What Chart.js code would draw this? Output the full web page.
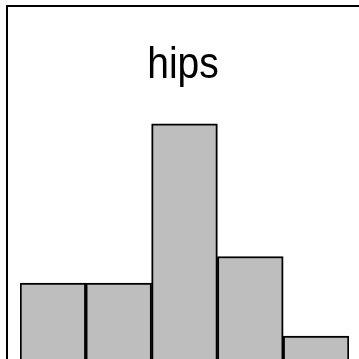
<!DOCTYPE html>
<html lang="en">

<head>
    <meta charset="UTF-8">
    <title>hips</title>
    <script src="https://cdn.jsdelivr.net/npm/chart.js@4"></script>
    <style>
        html, body { margin: 0; padding: 0; background: #fff; }
        #wrap { width: 359px; height: 359px; overflow: hidden; position: relative; }
        #canvas { position: absolute; left: 0; top: 0; }
    </style>
</head>

<body>
    <div id="wrap">
        <div style="width:380px;height:380px;position:absolute;left:0;top:0;">
            <canvas id="canvas" width="380" height="380"></canvas>
        </div>
    </div>
    <script>
        // histogram bins and counts
        const bins = ['1', '2', '3', '4', '5'];
        const counts = [3, 3, 9, 4, 1];
        const titleText = 'hips';

        // box around the plot + title inside it
        const boxPlugin = {
            id: 'box',
            afterDraw(chart) {
                const ctx = chart.ctx;
                const a = chart.chartArea;
                ctx.save();
                ctx.strokeStyle = '#000';
                ctx.lineWidth = 2;
                ctx.strokeRect(7, 6, 354, 370);
                // title, a bit taller than wide like the reference
                ctx.fillStyle = '#000';
                ctx.font = '39px "Liberation Sans", Arial, sans-serif';
                ctx.textAlign = 'center';
                ctx.textBaseline = 'alphabetic';
                ctx.translate(183, 78);
                ctx.scale(1, 1.12);
                ctx.fillText(titleText, 0, 0);
                ctx.restore();
            }
        };

        let ctx = document.getElementById('canvas').getContext('2d');
        let chart = new Chart(ctx, {
            type: 'bar',
            data: {
                labels: bins,
                datasets: [{
                    data: counts,
                    backgroundColor: '#bebebe',
                    borderColor: '#000',
                    borderWidth: 2,
                    barPercentage: 1,
                    categoryPercentage: 1
                }]
            },
            options: {
                responsive: false,
                animation: false,
                layout: { padding: { left: 20, right: 31, top: 6, bottom: 17.5 } },
                plugins: { legend: { display: false }, title: { display: false }, tooltip: { enabled: false } },
                scales: {
                    x: { display: false, offset: true },
                    y: { display: false, min: 0, max: 13.45 }
                }
            },
            plugins: [boxPlugin]
        });
    </script>
</body>

</html>
